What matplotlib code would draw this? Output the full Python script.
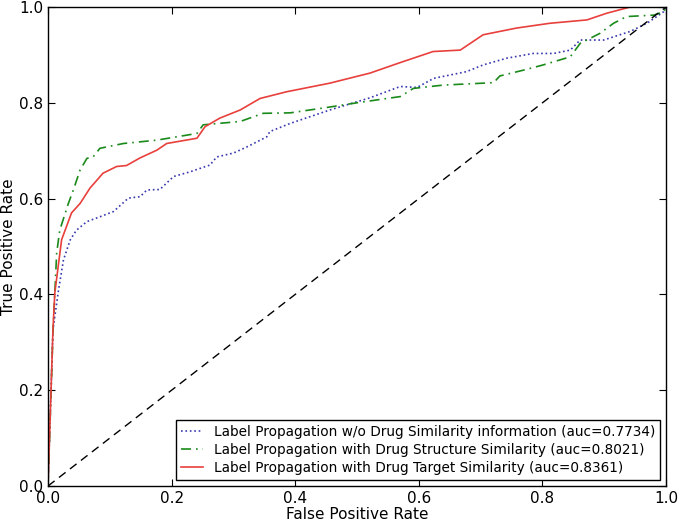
import matplotlib
matplotlib.use("Agg")
import matplotlib.pyplot as plt

# ROC curve points
fpr_none = [0.0, 0.008, 0.017, 0.025, 0.036, 0.046, 0.063, 0.084, 0.106, 0.130, 0.149, 0.160,
            0.181, 0.203, 0.230, 0.262, 0.273, 0.300, 0.322, 0.354, 0.359, 0.392, 0.456,
            0.520, 0.570, 0.597, 0.624, 0.677, 0.704, 0.742, 0.785, 0.818, 0.845, 0.861,
            0.899, 0.942, 0.969, 0.996, 1.0]
tpr_none = [0.0, 0.326, 0.409, 0.472, 0.514, 0.534, 0.552, 0.562, 0.573, 0.601, 0.604, 0.618,
            0.619, 0.646, 0.656, 0.670, 0.687, 0.695, 0.708, 0.729, 0.740, 0.757, 0.785,
            0.810, 0.834, 0.832, 0.851, 0.865, 0.879, 0.893, 0.903, 0.903, 0.910, 0.931,
            0.931, 0.949, 0.966, 0.990, 1.0]

fpr_struct = [0.0, 0.008, 0.014, 0.019, 0.033, 0.041, 0.052, 0.063, 0.073, 0.084, 0.122, 0.176,
              0.241, 0.251, 0.311, 0.348, 0.392, 0.450, 0.500, 0.570, 0.591, 0.640, 0.721,
              0.731, 0.775, 0.801, 0.845, 0.861, 0.893, 0.915, 0.936, 0.980, 0.996, 1.0]
tpr_struct = [0.0, 0.319, 0.486, 0.534, 0.590, 0.618, 0.660, 0.684, 0.687, 0.705, 0.715, 0.722,
              0.736, 0.754, 0.761, 0.778, 0.779, 0.790, 0.800, 0.813, 0.830, 0.837, 0.842,
              0.856, 0.870, 0.879, 0.896, 0.924, 0.945, 0.966, 0.980, 0.983, 0.990, 1.0]

fpr_target = [0.0, 0.008, 0.011, 0.022, 0.038, 0.052, 0.068, 0.089, 0.111, 0.127, 0.149, 0.176,
              0.192, 0.241, 0.254, 0.278, 0.311, 0.343, 0.386, 0.456, 0.521, 0.570, 0.623,
              0.667, 0.704, 0.758, 0.812, 0.872, 0.904, 0.942, 1.0]
tpr_target = [0.0, 0.326, 0.403, 0.514, 0.570, 0.590, 0.622, 0.653, 0.667, 0.669, 0.685, 0.701,
              0.715, 0.726, 0.750, 0.768, 0.785, 0.809, 0.823, 0.841, 0.862, 0.884, 0.907,
              0.910, 0.942, 0.956, 0.966, 0.973, 0.987, 1.0, 1.0]

labels = ["Label Propagation w/o Drug Similarity information (auc=0.7734)",
          "Label Propagation with Drug Structure Similarity (auc=0.8021)",
          "Label Propagation with Drug Target Similarity (auc=0.8361)"]

plt.rcParams["font.family"] = "DejaVu Sans"
plt.rcParams["xtick.direction"] = "in"
plt.rcParams["ytick.direction"] = "in"
plt.rcParams["xtick.top"] = True
plt.rcParams["ytick.right"] = True

fig = plt.figure(figsize=(6.79, 5.25), dpi=100)
ax = fig.add_axes([0.0707, 0.0743, 0.9103, 0.9124])

ax.plot(fpr_none, tpr_none, ":", color="#3838b0", lw=1.2, label=labels[0])
ax.plot(fpr_struct, tpr_struct, color="#1a8a1a", lw=1.2, dashes=(6, 3, 1, 3), label=labels[1])
ax.plot(fpr_target, tpr_target, "-", color="#e8403c", lw=1.2, label=labels[2])
ax.plot([0, 1], [0, 1], color="k", lw=1, dashes=(6, 4))

ax.set_xlim(0, 1)
ax.set_ylim(0, 1)
ax.set_xlabel("False Positive Rate", fontsize=11, labelpad=1)
ax.set_ylabel("True Positive Rate", fontsize=11, labelpad=2)
ax.tick_params(labelsize=11, length=5, width=0.8)
for s in ax.spines.values():
    s.set_linewidth(1)

leg = ax.legend(loc="lower right", fontsize=9.8, fancybox=False, framealpha=1,
                edgecolor="black", borderaxespad=0.45, handlelength=1.6,
                borderpad=0.35, labelspacing=0.3)
leg.get_frame().set_linewidth(1)

fig.savefig("out.png", dpi=100)
